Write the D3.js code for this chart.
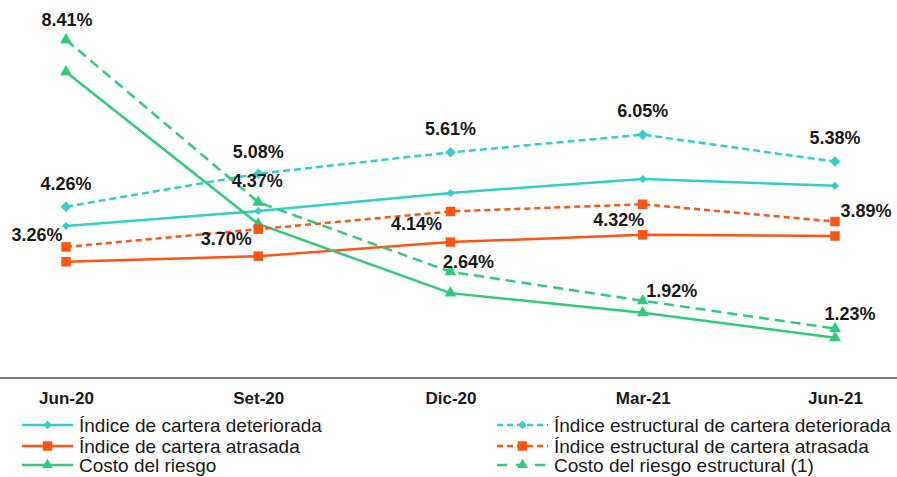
<!DOCTYPE html>
<html>
<head>
<meta charset="utf-8">
<script src="https://cdn.jsdelivr.net/npm/d3@7"></script>
<style>
  html, body { margin: 0; padding: 0; background: #fff; overflow: hidden; }
  svg { display: block; }
</style>
</head>
<body>
<svg id="chart" width="897" height="477"></svg>
<script>
const categories = ["Jun-20", "Set-20", "Dic-20", "Mar-21", "Jun-21"];
const deterioradaValues = [3.78, 4.15, 4.60, 4.95, 4.78];
const atrasadaValues = [2.89, 3.03, 3.38, 3.56, 3.53];
const costoValues = [7.61, 3.83, 2.11, 1.62, 1.00];
const deterioradaEstValues = [4.26, 5.08, 5.61, 6.05, 5.38];
const atrasadaEstValues = [3.26, 3.70, 4.14, 4.32, 3.89];
const costoEstValues = [8.41, 4.37, 2.64, 1.92, 1.23];
const seriesNames = [
  "Índice de cartera deteriorada",
  "Índice de cartera atrasada",
  "Costo del riesgo",
  "Índice estructural de cartera deteriorada",
  "Índice estructural de cartera atrasada",
  "Costo del riesgo estructural (1)"
];

const CYAN = "#30cfc8", ORANGE = "#ff5410", GREEN = "#2ecb7c";

const series = [
  { name: seriesNames[0], values: deterioradaValues, color: CYAN, dash: null, marker: "diamond", msize: 32, labeled: false },
  { name: seriesNames[1], values: atrasadaValues, color: ORANGE, dash: null, marker: "square", msize: 90, labeled: false },
  { name: seriesNames[2], values: costoValues, color: GREEN, dash: null, marker: "triangle", msize: 60, labeled: false },
  { name: seriesNames[3], values: deterioradaEstValues, color: CYAN, dash: "7,4", marker: "diamond", msize: 55, labeled: true,
    offsets: [[0,-23],[0,-22],[0,-23],[0,-24],[0,-24]] },
  { name: seriesNames[4], values: atrasadaEstValues, color: ORANGE, dash: "6,4", marker: "square", msize: 90, labeled: true,
    offsets: [[-29,-12],[-32,10],[-34,13],[-24,16],[31,-11]] },
  { name: seriesNames[5], values: costoEstValues, color: GREEN, dash: "10,6", marker: "triangle", msize: 60, labeled: true,
    offsets: [[1,-20],[-1,-21],[18,-10],[29,-10],[15,-15]] }
];

const svg = d3.select("#chart");
const x = d3.scalePoint().domain(categories).range([66, 835]);
const y = d3.scaleLinear().domain([0, 9]).range([378, 16]);

const symbolType = { diamond: d3.symbolSquare, square: d3.symbolSquare, triangle: d3.symbolTriangle };
const rot = m => (m === "diamond" ? " rotate(45)" : "");

// axis line
svg.append("line").attr("x1", 0).attr("x2", 897).attr("y1", 378).attr("y2", 378)
  .attr("stroke", "#808080").attr("stroke-width", 2);

// x axis labels via d3 axis
const xAxis = svg.append("g").attr("transform", "translate(0,378)")
  .call(d3.axisBottom(x).tickSize(0).tickPadding(14));
xAxis.select(".domain").remove();
xAxis.selectAll("text")
  .attr("font-family", "'Liberation Sans', Arial, sans-serif")
  .attr("font-size", 17).attr("font-weight", "bold").attr("fill", "#1a1a1a");

const line = d3.line().x((d, i) => x(categories[i])).y(d => y(d));

series.forEach(s => {
  svg.append("path").datum(s.values)
    .attr("d", line).attr("fill", "none")
    .attr("stroke", s.color).attr("stroke-width", 2.5)
    .attr("stroke-dasharray", s.dash);
  svg.append("g").selectAll("path").data(s.values).join("path")
    .attr("transform", (d, i) => `translate(${x(categories[i])},${y(d)})` + rot(s.marker))
    .attr("d", d3.symbol().type(symbolType[s.marker]).size(s.msize))
    .attr("fill", s.color);
});

// labels
series.filter(s => s.labeled).forEach(s => {
  svg.append("g").selectAll("text").data(s.values).join("text")
    .attr("x", (d, i) => x(categories[i]) + s.offsets[i][0])
    .attr("y", (d, i) => y(d) + s.offsets[i][1])
    .attr("text-anchor", "middle").attr("dominant-baseline", "central")
    .attr("font-family", "'Liberation Sans', Arial, sans-serif")
    .attr("font-size", 18).attr("font-weight", "bold").attr("fill", "#1a1a1a")
    .text(d => d.toFixed(2) + "%");
});

// legend
const legendPos = [
  [22, 425], [22, 446], [22, 465],
  [497, 425], [497, 446], [497, 465]
];
series.forEach((s, i) => {
  const [lx, ly] = legendPos[i];
  const g = svg.append("g").attr("transform", `translate(${lx},${ly})`);
  g.append("line").attr("x1", 0).attr("x2", 51).attr("y1", 0).attr("y2", 0)
    .attr("stroke", s.color).attr("stroke-width", 2.5)
    .attr("stroke-dasharray", s.dash ? (s.marker === "triangle" ? "10,9" : "6,4") : null);
  g.append("path").attr("transform", "translate(25.5,0)" + rot(s.marker))
    .attr("d", d3.symbol().type(symbolType[s.marker]).size(s.marker === "square" ? 90 : (s.marker === "diamond" ? 36 : 50)))
    .attr("fill", s.color);
  g.append("text").attr("x", 57).attr("y", 0)
    .attr("dominant-baseline", "central")
    .attr("font-family", "'Liberation Sans', Arial, sans-serif")
    .attr("font-size", 19).attr("fill", "#1a1a1a")
    .text(s.name);
});
</script>
</body>
</html>
